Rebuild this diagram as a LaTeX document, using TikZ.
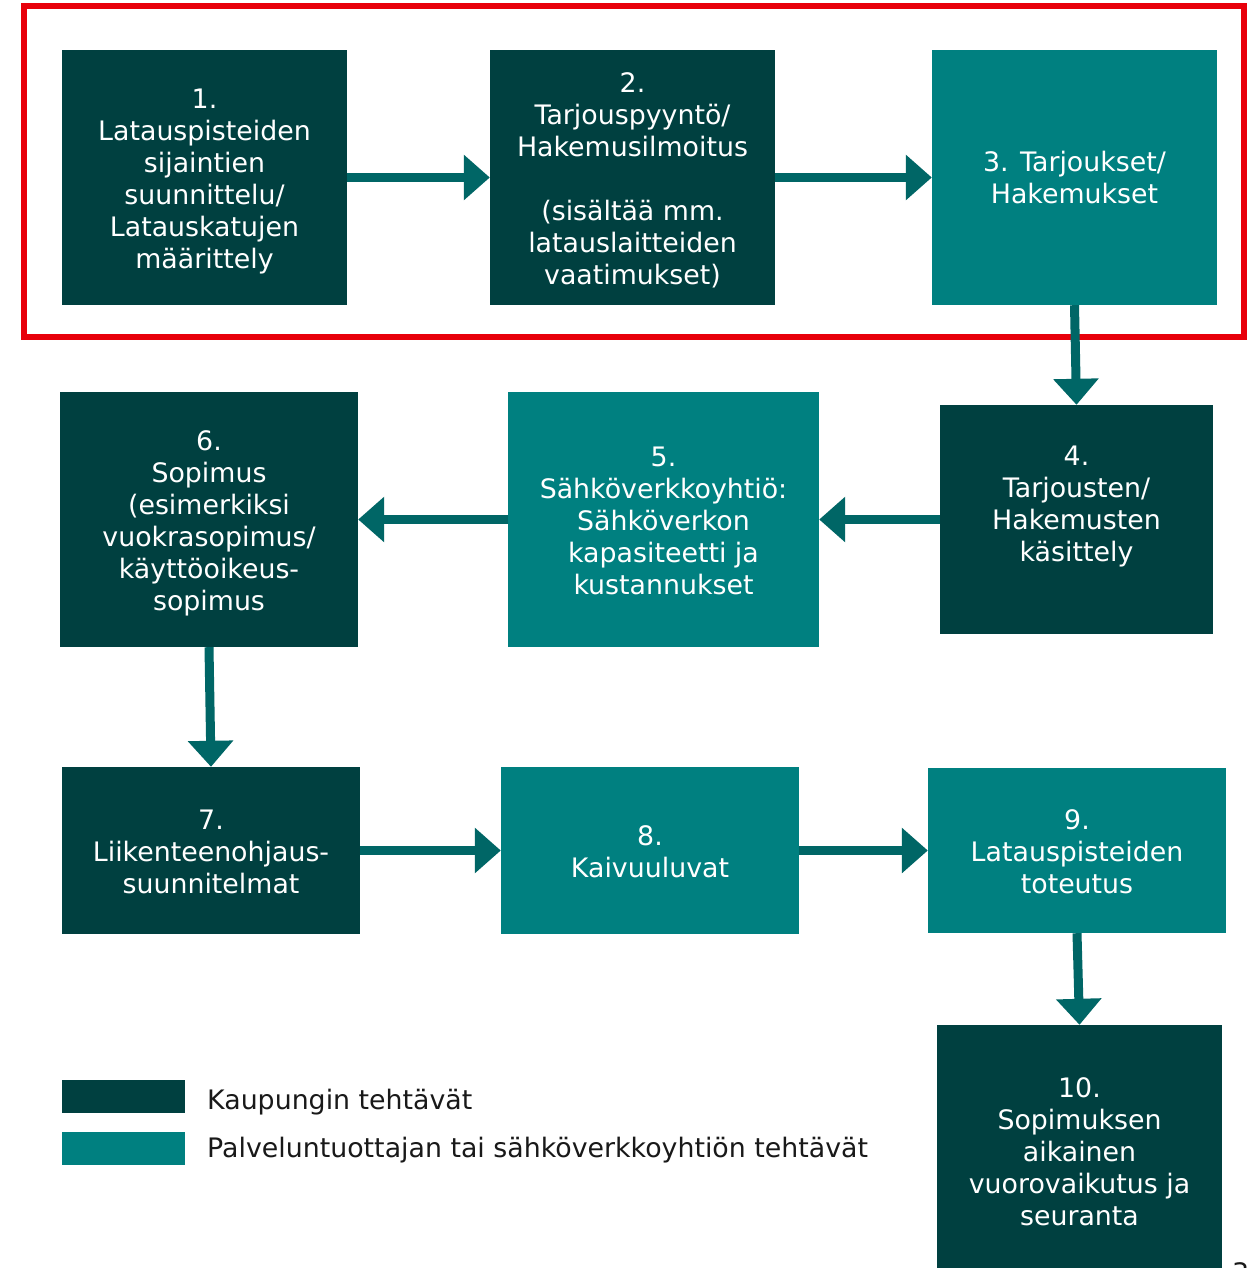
\documentclass[tikz,border=0pt]{standalone}
\usepackage{fontspec}
\setmainfont{DejaVu Sans}
\usetikzlibrary{arrows.meta}
\definecolor{darkteal}{HTML}{004040}
\definecolor{lightteal}{HTML}{008080}
\definecolor{arrowc}{HTML}{006666}
\definecolor{redframe}{HTML}{E8000B}
\begin{document}
\begin{tikzpicture}[x=1pt,y=-1pt,
  txt/.style={text=white, align=center, font=\fontsize{26.8}{32}\selectfont, inner sep=0pt},
  dbox/.style={fill=darkteal, inner sep=0pt},
  lbox/.style={fill=lightteal, inner sep=0pt},
  flow/.style={draw=arrowc, line width=9pt, -{Triangle[length=26pt,width=44pt]}},
  legtxt/.style={text=black!90, font=\fontsize{26.8}{32}\selectfont, inner sep=0pt, anchor=west}]
\useasboundingbox (0,0) rectangle (1250,1268);
\clip (0,0) rectangle (1250,1268);
\fill[white] (0,0) rectangle (1250,1268);
% red frame
\draw[redframe, line width=6pt] (24,6) rectangle (1244,337);
% row 1
\node[dbox, minimum width=285pt, minimum height=255pt] (b1) at (204.5,177.5) {};
\node[txt] (t1) at (204.5,181.5)
  {1.\\Latauspisteiden\\sijaintien\\suunnittelu/\\Latauskatujen\\määrittely};
\node[dbox, minimum width=285pt, minimum height=255pt] (b2) at (632.5,177.5) {};
\node[txt] (t2) at (632.5,180.5)
  {2.\\Tarjouspyyntö/\\Hakemusilmoitus\\[32pt](sisältää mm.\\latauslaitteiden\\vaatimukset)};
\node[lbox, minimum width=285pt, minimum height=255pt] (b3) at (1074.5,177.5) {};
\node[txt] (t3) at (1074.5,177.5) {3. Tarjoukset/\\Hakemukset};
% row 2
\node[dbox, minimum width=273pt, minimum height=229pt] (b4) at (1076.5,519.5) {};
\node[txt] (t4) at (1076.5,507) {4.\\Tarjousten/\\Hakemusten\\käsittely};
\node[lbox, minimum width=311pt, minimum height=255pt] (b5) at (663.5,519.5) {};
\node[txt] (t5) at (663.5,520.5)
  {5.\\Sähköverkkoyhtiö:\\Sähköverkon\\kapasiteetti ja\\kustannukset};
\node[dbox, minimum width=298pt, minimum height=255pt] (b6) at (209,519.5) {};
\node[txt] (t6) at (209,523.5)
  {6.\\Sopimus\\(esimerkiksi\\vuokrasopimus/\\käyttöoikeus-\\sopimus};
% row 3
\node[dbox, minimum width=298pt, minimum height=167pt] (b7) at (211,850.5) {};
\node[txt] (t7) at (211,851.5) {7.\\Liikenteenohjaus-\\suunnitelmat};
\node[lbox, minimum width=298pt, minimum height=167pt] (b8) at (650,850.5) {};
\node[txt] (t8) at (650,851.5) {8.\\Kaivuuluvat};
\node[lbox, minimum width=298pt, minimum height=165pt] (b9) at (1077,850.5) {};
\node[txt] (t9) at (1077,851.5) {9.\\Latauspisteiden\\toteutus};
% row 4
\node[dbox, minimum width=285pt, minimum height=260pt] (b10) at (1079.5,1155) {};
\node[txt] (t10) at (1079.5,1152) {10.\\Sopimuksen\\aikainen\\vuorovaikutus ja\\seuranta};
% arrows
\draw[flow] (b1.east) -- (b2.west);
\draw[flow] (b2.east) -- (b3.west);
\draw[flow] (b3.south) -- (b4.north);
\draw[flow] (b4.west) -- (b5.east);
\draw[flow] (b5.west) -- (b6.east);
\draw[flow] (b6.south) -- (b7.north);
\draw[flow] (b7.east) -- (b8.west);
\draw[flow] (b8.east) -- (b9.west);
\draw[flow] (b9.south) -- (b10.north);
% legend
\node[fill=darkteal, minimum width=123pt, minimum height=33pt, inner sep=0pt] (k1) at (123.5,1096.5) {};
\node[fill=lightteal, minimum width=123pt, minimum height=33pt, inner sep=0pt] (k2) at (123.5,1148.5) {};
\node[legtxt] (l1) at (207,1102) {Kaupungin tehtävät};
\node[legtxt] (l2) at (207,1150) {Palveluntuottajan tai sähköverkkoyhtiön tehtävät};
% page number (cut off at the page edge, as in the reference)
\node[text=black!90, font=\fontsize{26.8}{32}\selectfont, inner sep=0pt, anchor=north west] (pg) at (1232,1262) {3};
\end{tikzpicture}
\end{document}
